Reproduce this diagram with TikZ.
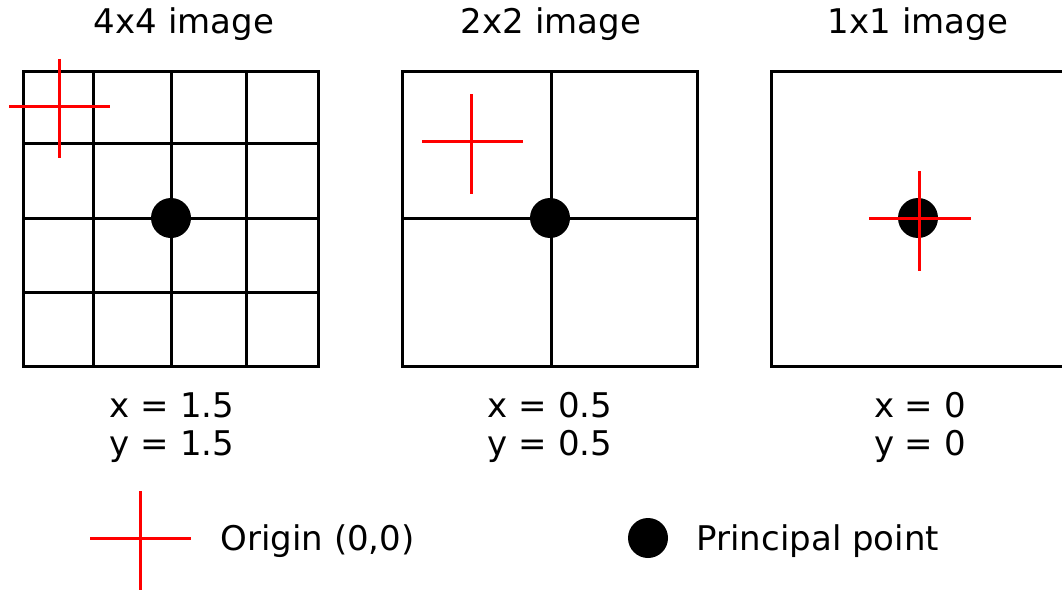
\documentclass[tikz,border=0pt]{standalone}
\usepackage{fontspec}
\setmainfont{DejaVu Sans}
\usetikzlibrary{positioning}

\begin{document}
\begin{tikzpicture}[x=1pt, y=-1pt, line width=3pt]
    \tikzstyle{label} = [inner sep=0pt, font=\fontsize{34}{38}\selectfont]
    \tikzstyle{ppoint} = [circle, fill=black, inner sep=0pt, minimum size=40pt]
    \tikzstyle{origin} = [red, line width=3pt]

    \useasboundingbox (0,0) rectangle (1062,594);

    % titles
    \node[label, anchor=base] (t4) at (184,34) {4x4 image};
    \node[label, anchor=base] (t2) at (551,34) {2x2 image};
    \node[label, anchor=base] (t1) at (918,34) {1x1 image};

    % 4x4 grid
    \draw (23,71) rectangle (318,366);
    \foreach \gx in {93,171,246} \draw (\gx,71) -- (\gx,366);
    \foreach \gy in {143,218,292} \draw (23,\gy) -- (318,\gy);
    \node[ppoint] (pp4) at (171,218) {};
    \draw[origin] (9,106) -- (110,106) (59,59) -- (59,158);

    % 2x2 grid
    \draw (402,71) rectangle (697,366);
    \draw (551,71) -- (551,366) (402,218) -- (697,218);
    \node[ppoint] (pp2) at (550,218) {};
    \draw[origin] (422,141) -- (523,141) (471,94) -- (471,194);

    % 1x1 grid
    \draw (771,71) rectangle (1066,366);
    \node[ppoint] (pp1) at (918,218) {};
    \draw[origin] (869,218) -- (971,218) (919,171) -- (919,271);

    % coordinates
    \node[label, align=center, anchor=base] (c4) at (172,455) {x = 1.5\\y = 1.5};
    \node[label, align=center, anchor=base] (c2) at (550,455) {x = 0.5\\y = 0.5};
    \node[label, align=center, anchor=base] (c1) at (920,455) {x = 0\\y = 0};

    % legend
    \draw[origin] (90,538) -- (191,538) (140,491) -- (140,590);
    \node[label, anchor=base west] (lorigin) at (219,550) {Origin (0,0)};
    \node[ppoint] (lpp) at (648,538) {};
    \node[label, anchor=base west] (lprincipal) at (695,550) {Principal point};
\end{tikzpicture}
\end{document}
